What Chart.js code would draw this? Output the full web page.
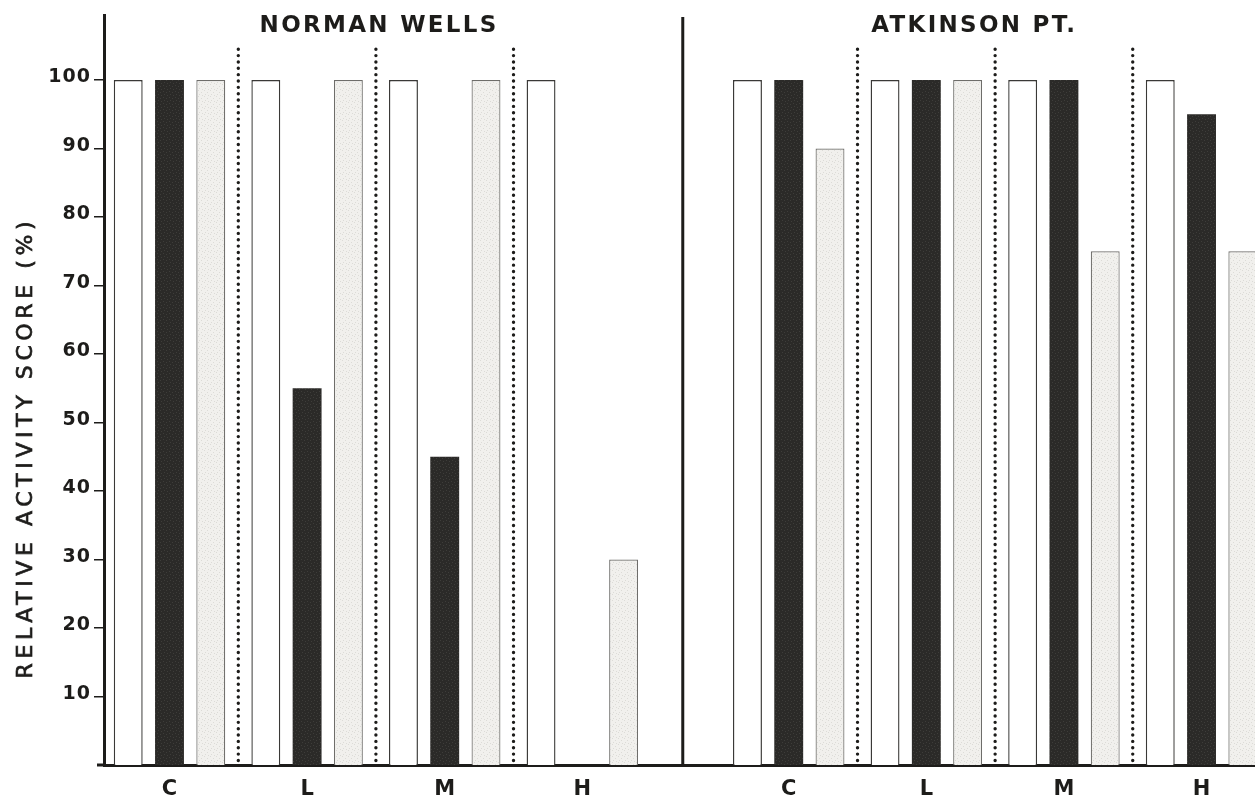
<!DOCTYPE html>
<html>
<head>
<meta charset="utf-8">
<title>Relative activity score</title>
<script src="https://cdn.jsdelivr.net/npm/chart.js@4.4.1/dist/chart.umd.min.js"></script>
<style>
  html, body { margin: 0; padding: 0; background: #ffffff; overflow: hidden; }
  #wrap { width: 1298px; height: 803px; }
</style>
</head>
<body>
<div id="wrap"><canvas id="chart" width="1298" height="803"></canvas></div>
<script>
// ---- data ----
const categories = ['C', 'L', 'M', 'H'];
const siteNames = ['NORMAN WELLS', 'ATKINSON PT.'];
const yTickValues = [10, 20, 30, 40, 50, 60, 70, 80, 90, 100];
const yAxisTitle = 'RELATIVE ACTIVITY SCORE (%)';

// relative activity score (%) per category; open, solid and stippled bars
const normanOpen      = [100, 100, 100, 100];
const normanSolid     = [100, 55, 45, null];
const normanStipple   = [100, 100, 100, 30];
const atkinsonOpen    = [100, 100, 100, 100];
const atkinsonSolid   = [100, 100, 100, 95];
const atkinsonStipple = [90, 100, 75, 75];

// ---- layout (x positions in category-slot units) ----
const SITE_OFFSET = 4.5;            // second site starts 4.5 slots after the first
const X_MIN = -0.476;
const X_MAX = 8.201;
const Y_MAX = 109.5;
const slots = [
  ...categories.map((_, i) => i),
  ...categories.map((_, i) => i + SITE_OFFSET)
];
const toPoints = (first, second) => [
  ...first.map((y, i) => ({ x: i, y })),
  ...second.map((y, i) => ({ x: i + SITE_OFFSET, y }))
];

// small tiles used as bar fills
function makeTile(base, speck, spots) {
  const c = document.createElement('canvas');
  c.width = 6; c.height = 6;
  const g = c.getContext('2d');
  g.fillStyle = base; g.fillRect(0, 0, 6, 6);
  g.fillStyle = speck;
  spots.forEach(([x, y]) => g.fillRect(x, y, 1, 1));
  return g.createPattern(c, 'repeat');
}
const ctx = document.getElementById('chart').getContext('2d');
const solidFill = makeTile('#2b2a28', '#3e3d3a', [[1, 1], [4, 2], [2, 4], [5, 5]]);
const stippleFill = makeTile('#f1f0ed', '#dcdbd7', [[0, 0], [3, 2], [1, 4], [4, 5]]);

const FONT_BOLD = '"DejaVu Sans", "Liberation Sans", Arial, sans-serif';
const INK = '#1d1c1a';

function spacedText(c, text, x, y, spacing, align) {
  c.letterSpacing = spacing + 'px';
  const w = c.measureText(text).width - spacing;
  const start = align === 'center' ? x - w / 2 : align === 'right' ? x - w : x;
  c.textAlign = 'left';
  c.fillText(text, start, y);
  c.letterSpacing = '0px';
}

const decor = {
  id: 'decor',
  beforeDraw(chart) {
    const c = chart.ctx;
    c.save();
    c.fillStyle = '#ffffff';
    c.fillRect(0, 0, chart.width, chart.height);
    c.restore();
  },
  beforeDatasetsDraw(chart) {
    const c = chart.ctx;
    const xs = chart.scales.x, ys = chart.scales.y;
    const area = chart.chartArea;
    c.save();
    // dotted separators between categories
    c.strokeStyle = INK;
    c.lineWidth = 3.4;
    c.lineCap = 'round';
    c.setLineDash([0, 6.35]);
    const seps = [0.5, 1.5, 2.5].flatMap(v => [v, v + SITE_OFFSET]);
    seps.forEach(v => {
      const px = xs.getPixelForValue(v);
      c.beginPath();
      c.moveTo(px, ys.getPixelForValue(104.5));
      c.lineTo(px, area.bottom - 2);
      c.stroke();
    });
    c.setLineDash([]);
    // solid divider between the two sites
    c.lineCap = 'butt';
    c.lineWidth = 3;
    const dx = xs.getPixelForValue(3.73);
    c.beginPath();
    c.moveTo(dx, area.top + 2);
    c.lineTo(dx, area.bottom);
    c.stroke();
    c.restore();
  },
  afterDraw(chart) {
    const c = chart.ctx;
    const xs = chart.scales.x, ys = chart.scales.y;
    const area = chart.chartArea;
    c.save();
    c.fillStyle = INK;
    c.strokeStyle = INK;
    // x axis line runs a little past the y axis
    c.lineWidth = 3;
    c.beginPath();
    c.moveTo(97, area.bottom);
    c.lineTo(area.left, area.bottom);
    c.stroke();

    // site headings
    c.font = 'bold 23px ' + FONT_BOLD;
    c.textBaseline = 'alphabetic';
    spacedText(c, siteNames[0], xs.getPixelForValue(1.515), 32, 2.3, 'center');
    spacedText(c, siteNames[1], xs.getPixelForValue(5.84), 32, 2.3, 'center');

    // y tick labels sit on their tick marks
    c.font = 'bold 19px ' + FONT_BOLD;
    yTickValues.forEach(v => {
      spacedText(c, String(v), 90, ys.getPixelForValue(v) + 2, 1, 'right');
    });

    // y axis title
    c.translate(26, 450);
    c.rotate(-Math.PI / 2);
    c.font = '22px "DejaVu Sans", "Liberation Sans", Arial, sans-serif';
    c.textBaseline = 'middle';
    c.lineWidth = 0.7;
    c.letterSpacing = '4.6px';
    const w = c.measureText(yAxisTitle).width - 4.6;
    c.textAlign = 'left';
    c.fillText(yAxisTitle, -w / 2, 0);
    c.strokeText(yAxisTitle, -w / 2, 0);
    c.letterSpacing = '0px';
    c.restore();
  }
};

new Chart(ctx, {
  type: 'bar',
  data: {
    datasets: [
      {
        label: 'open',
        data: toPoints(normanOpen, atkinsonOpen),
        backgroundColor: '#ffffff',
        borderColor: '#3a3937',
        borderWidth: 1.4
      },
      {
        label: 'solid',
        data: toPoints(normanSolid, atkinsonSolid),
        backgroundColor: solidFill,
        borderColor: '#2b2a28',
        borderWidth: 0
      },
      {
        label: 'stippled',
        data: toPoints(normanStipple, atkinsonStipple),
        backgroundColor: stippleFill,
        borderColor: '#6e6d6a',
        borderWidth: 1.2
      }
    ]
  },
  options: {
    responsive: false,
    animation: false,
    layout: { padding: { top: 15, left: 0, right: 0, bottom: 0 } },
    datasets: {
      bar: { categoryPercentage: 0.9, barPercentage: 0.7 }
    },
    plugins: {
      legend: { display: false },
      tooltip: { enabled: false },
      title: { display: false }
    },
    scales: {
      x: {
        type: 'linear',
        offset: false,
        min: X_MIN,
        max: X_MAX,
        z: 1,
        afterBuildTicks(scale) {
          scale.ticks = slots.map(v => ({ value: v }));
        },
        afterFit(scale) { scale.height = 38; },
        grid: { display: true, offset: false, drawOnChartArea: false, drawTicks: false, color: 'rgba(0,0,0,0)' },
        border: { display: true, width: 3, color: INK },
        ticks: {
          autoSkip: false,
          maxRotation: 0,
          padding: 12,
          color: INK,
          font: { family: FONT_BOLD, size: 21, weight: 'bold' },
          callback: (value, index) => categories[index % categories.length]
        }
      },
      y: {
        min: 0,
        max: Y_MAX,
        z: 1,
        afterBuildTicks(scale) {
          scale.ticks = yTickValues.map(v => ({ value: v }));
        },
        afterFit(scale) { scale.width = 104; },
        grid: {
          display: true,
          drawOnChartArea: false,
          drawTicks: true,
          tickLength: 10,
          tickColor: INK,
          lineWidth: 1.5
        },
        border: { display: true, width: 3, color: INK },
        ticks: { display: false }
      }
    }
  },
  plugins: [decor]
});
</script>
</body>
</html>
